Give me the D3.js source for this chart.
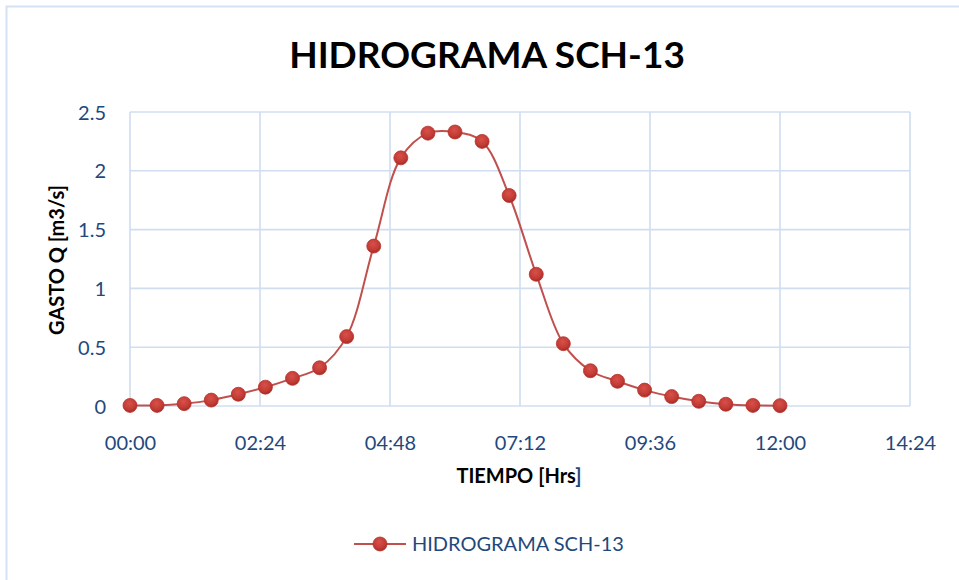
<!DOCTYPE html>
<html><head><meta charset="utf-8">
<script src="https://cdn.jsdelivr.net/npm/d3@7"></script>
<style>
body{margin:0;background:#fff;}
svg{display:block;font-family:Lato,"Open Sans",sans-serif;}
</style></head>
<body>
<svg id="c" width="959" height="580"></svg>
<script>
// Time in minutes from 00:00
const times = [0,30,60,90,120,150,180,210,240,270,300,330,360,390,420,450,480,510,540,570,600,630,660,690,720];
const flows = [0.005,0.005,0.02,0.05,0.10,0.16,0.235,0.325,0.59,1.36,2.11,2.32,2.33,2.25,1.79,1.12,0.53,0.30,0.21,0.135,0.08,0.04,0.015,0.005,0.003];
const xTicks = [0,144,288,432,576,720,864];
const xTickLabels = ["00:00","02:24","04:48","07:12","09:36","12:00","14:24"];
const yTicks = [0,0.5,1,1.5,2,2.5];
const yTickLabels = ["0","0.5","1","1.5","2","2.5"];
const seriesName = "HIDROGRAMA SCH-13";
const titleText = "HIDROGRAMA SCH-13";

(function(){
const svg = d3.select("#c");
const pL=130, pR=910, pT=112, pB=406;
const x = d3.scaleLinear().domain([0,864]).range([pL,pR]);
const y = d3.scaleLinear().domain([0,2.5]).range([pB,pT]);

svg.append("rect").attr("x",6.5).attr("y",6.5).attr("width",980).attr("height",600)
  .attr("fill","none").attr("stroke","#d5e2f2").attr("stroke-width",2);

const defs = svg.append("defs");
const g = defs.append("radialGradient").attr("id","mk").attr("cx","45%").attr("cy","35%").attr("r","65%");
g.append("stop").attr("offset","0%").attr("stop-color","#d8504a");
g.append("stop").attr("offset","70%").attr("stop-color","#c13a34");
g.append("stop").attr("offset","100%").attr("stop-color","#a32a25");

svg.append("g").selectAll("line").data(yTicks).join("line")
  .attr("x1",pL).attr("x2",pR).attr("y1",d=>y(d)).attr("y2",d=>y(d))
  .attr("stroke","#d0def0").attr("stroke-width",1.6);
svg.append("g").selectAll("line").data(xTicks).join("line")
  .attr("x1",d=>x(d)).attr("x2",d=>x(d)).attr("y1",pT).attr("y2",pB)
  .attr("stroke","#d0def0").attr("stroke-width",1.6);

const xAxis = d3.axisBottom(x).tickValues(xTicks).tickFormat((d,i)=>xTickLabels[i]).tickSize(0).tickPadding(0);
const gx = svg.append("g").attr("transform",`translate(0,${pB})`).call(xAxis);
gx.select(".domain").remove();
gx.selectAll("text").attr("dy",null).attr("y",44).attr("fill","#1f497d").attr("font-size",20)
  .attr("font-family","Lato,'Open Sans',sans-serif");

const yAxis = d3.axisLeft(y).tickValues(yTicks).tickFormat((d,i)=>yTickLabels[i]).tickSize(0).tickPadding(0);
const gy = svg.append("g").attr("transform",`translate(${pL},0)`).call(yAxis);
gy.select(".domain").remove();
gy.selectAll("text").attr("x",-24).attr("dy","0.35em").attr("fill","#1f497d").attr("font-size",20)
  .attr("font-family","Lato,'Open Sans',sans-serif");

const line = d3.line().x((d,i)=>x(times[i])).y(d=>y(d)).curve(d3.curveCatmullRom.alpha(0.5));
svg.append("path").datum(flows).attr("d",line).attr("fill","none").attr("stroke","#c0504d").attr("stroke-width",2);

svg.append("g").selectAll("circle").data(flows).join("circle")
  .attr("cx",(d,i)=>x(times[i])).attr("cy",d=>y(d)).attr("r",7)
  .attr("fill","url(#mk)").attr("stroke","#b8322d").attr("stroke-width",0.8);

svg.append("text").attr("x",487).attr("y",68).attr("text-anchor","middle")
  .attr("font-size",37).attr("font-weight","bold").attr("fill","#000").text(titleText);

const xt = svg.append("text").attr("x",519).attr("y",483).attr("text-anchor","middle")
  .attr("font-size",20).attr("font-weight","bold").attr("fill","#000");
xt.append("tspan").text("TIEMPO [Hrs");
xt.append("tspan").attr("fill","#1f497d").text("]");

svg.append("text").attr("transform","translate(64,260) rotate(-90)").attr("text-anchor","middle")
  .attr("font-size",20).attr("font-weight","bold").attr("fill","#000").text("GASTO Q [m3/s]");

svg.append("line").attr("x1",354).attr("x2",406).attr("y1",544).attr("y2",544).attr("stroke","#c0504d").attr("stroke-width",2);
svg.append("circle").attr("cx",380).attr("cy",544).attr("r",7).attr("fill","url(#mk)").attr("stroke","#b8322d").attr("stroke-width",0.8);
svg.append("text").attr("x",412).attr("y",544).attr("dy","0.35em").attr("font-size",20).attr("fill","#1f497d").text(seriesName);
})();
</script>
</body></html>
